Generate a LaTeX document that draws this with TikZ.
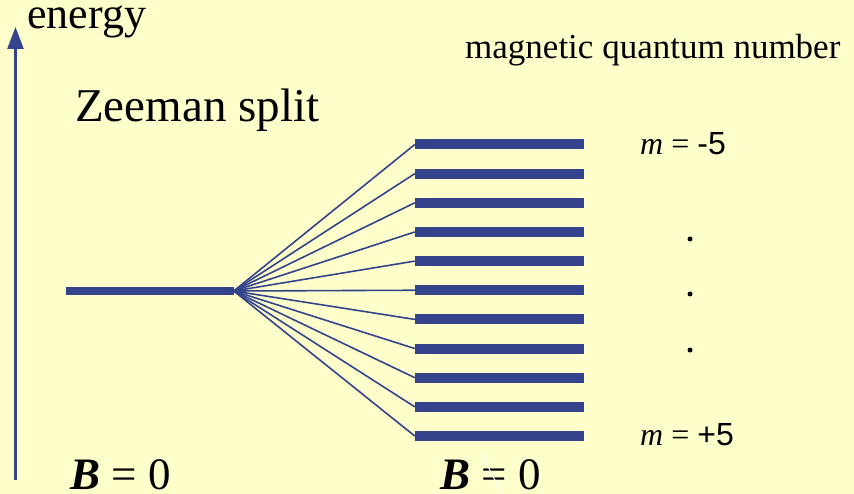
\documentclass[tikz,border=0pt]{standalone}
\usepackage{fontspec}
\setmainfont{Liberation Serif}
\newfontfamily\serf{Liberation Serif}
\newfontfamily\arialf{Liberation Sans}
\usetikzlibrary{arrows.meta}
\definecolor{bg}{RGB}{255,255,204}
\definecolor{lvl}{RGB}{51,68,140}
\begin{document}
\begin{tikzpicture}[x=1pt,y=-1pt,
  level/.style={rectangle,fill=lvl,inner sep=0pt,minimum width=169pt,minimum height=10pt},
  fan/.style={draw=lvl,line width=1.6pt},
  txt/.style={inner sep=0pt,anchor=base west,text=black},
  dotnode/.style={circle,fill=black,inner sep=0pt,minimum size=5pt}]
\fill[bg] (0,0) rectangle (854,494);
\useasboundingbox (0,0) rectangle (854,494);
% energy axis
\coordinate (ab) at (15.5,480);
\coordinate (at) at (15.5,27);
\draw[lvl,line width=2.5pt,-{Triangle[length=22pt,width=16pt]}] (ab) -- (at);
\node[txt,font=\serf\fontsize{44}{44}\selectfont] (energy) at (27,29) {energy};
\node[txt,font=\serf\fontsize{47}{47}\selectfont] (zee) at (75,122) {Zeeman split};
\node[txt,font=\serf\fontsize{35}{35}\selectfont] (mqn) at (465,59) {magnetic quantum number};
% left level
\node[level,minimum width=168pt,minimum height=8pt] (L) at (150,291) {};
% split levels
\foreach \i in {0,...,10}{
  \pgfmathsetmacro\yy{144.5+29.15*\i}
  \node[level] (L\i) at (499.5,\yy) {};
  \draw[fan] ([xshift=-0.5pt]L.east) -- (L\i.west);
}
% labels
\node[txt,font=\serf\fontsize{32}{32}\selectfont] (mtop) at (640,155) {\textit{m} = {\arialf -5}};
\node[txt,font=\serf\fontsize{32}{32}\selectfont] (mbot) at (640,445) {\textit{m} = {\arialf +5}};
\node[dotnode] (d1) at (690,239) {};
\node[dotnode] (d2) at (690,294) {};
\node[dotnode] (d3) at (690,350) {};
\node[txt,font=\serf\fontsize{45}{45}\selectfont] (b0) at (70,489) {\textbf{\textit{B}} = 0};
\node[txt,font=\serf\fontsize{45}{45}\selectfont] (b1) at (440,489) {\textbf{\textit{B}} = 0};
\draw[white,line width=1pt] (481,453) -- (502,494);
\end{tikzpicture}
\end{document}
